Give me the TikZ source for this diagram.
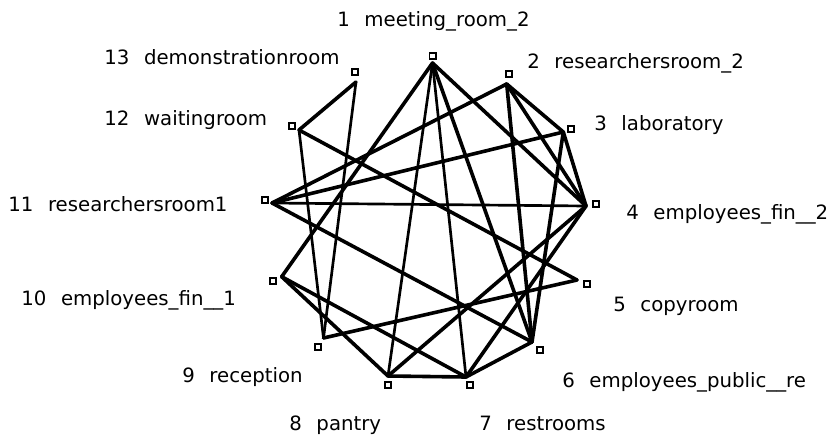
\documentclass[tikz,border=0pt]{standalone}
\usepackage{fontspec}
\setmainfont{DejaVu Sans}
\newcommand{\numgap}{\hspace{11pt}}

\begin{document}
\begin{tikzpicture}[
      x=0.75pt, y=-0.75pt,
      font=\fontsize{14.8}{18}\selectfont,
      edge/.style={line width=2.7pt, line cap=round, line join=round},
      thin edge/.style={edge, line width=2pt},
      marker/.style={draw, line width=1.4pt, fill=white, minimum size=4.6pt, inner sep=0pt},
      lbl/.style={anchor=base west, inner sep=0pt},
    ]
    \useasboundingbox (0,0) rectangle (835,436);

    % line ends of the rooms
    \coordinate (v1) at (432.5,63);
    \coordinate (v2) at (506.7,84);
    \coordinate (v3) at (563.3,132);
    \coordinate (v4) at (586,206);
    \coordinate (v5) at (577,280);
    \coordinate (v6) at (532,342);
    \coordinate (v7) at (466,377);
    \coordinate (v8) at (388,376);
    \coordinate (v9) at (323.5,338);
    \coordinate (v10) at (281.7,276.7);
    \coordinate (v11) at (272,203);
    \coordinate (v12) at (299,130);
    \coordinate (v13) at (356,82);

    % connections
    \draw [edge] (v1) -- (v4);
    \draw [edge] (v1) -- (v6);
    \draw [thin edge] (v1) -- (v7);
    \draw [thin edge] (v1) -- (v8);
    \draw [edge] (v1) -- (v10);
    \draw [edge] (v2) -- (v3);
    \draw [edge] (v2) -- (v4);
    \draw [edge] (v2) -- (v6);
    \draw [edge] (v2) -- (v11);
    \draw [edge] (v3) -- (v4);
    \draw [edge] (v3) -- (v6);
    \draw [edge] (v3) -- (v11);
    \draw [edge] (v4) -- (v7);
    \draw [edge] (v4) -- (v8);
    \draw [thin edge] (v4) -- (v11);
    \draw [edge] (v5) -- (v9);
    \draw [edge] (v5) -- (v12);
    \draw [edge] (v6) -- (v7);
    \draw [edge] (v6) -- (v11);
    \draw [edge] (v7) -- (v8);
    \draw [edge] (v7) -- (v10);
    \draw [edge] (v8) -- (v10);
    \draw [thin edge] (v9) -- (v12);
    \draw [thin edge] (v9) -- (v13);
    \draw [edge] (v12) -- (v13);

    % small squares
    \node (m1) [marker] at (432.5,56) {};
    \node (m2) [marker] at (509.3,74) {};
    \node (m3) [marker] at (570.7,129) {};
    \node (m4) [marker] at (596,204) {};
    \node (m5) [marker] at (586.7,284) {};
    \node (m6) [marker] at (540,350) {};
    \node (m7) [marker] at (470,385) {};
    \node (m8) [marker] at (388.3,385) {};
    \node (m9) [marker] at (318.3,346.7) {};
    \node (m10) [marker] at (273.3,280.7) {};
    \node (m11) [marker] at (265,200) {};
    \node (m12) [marker] at (292.3,126) {};
    \node (m13) [marker] at (355,72.3) {};

    % room names
    \node (l1) [lbl] at (337,26) {1\numgap meeting\_room\_2};
    \node (l2) [lbl] at (527,68) {2\numgap researchersroom\_2};
    \node (l3) [lbl] at (594,130) {3\numgap laboratory};
    \node (l4) [lbl] at (626,219) {4\numgap employees\_fin\_\_2};
    \node (l5) [lbl] at (613,311) {5\numgap copyroom};
    \node (l6) [lbl] at (562,387) {6\numgap employees\_public\_\_re};
    \node (l7) [lbl] at (479,430.5) {7\numgap restrooms};
    \node (l8) [lbl] at (289,430.5) {8\numgap pantry};
    \node (l9) [lbl] at (182,382) {9\numgap reception};
    \node (l10) [lbl] at (21,305) {10\numgap employees\_fin\_\_1};
    \node (l11) [lbl] at (8,211) {11\numgap researchersroom1};
    \node (l12) [lbl] at (104,125) {12\numgap waitingroom};
    \node (l13) [lbl] at (104,64.7) {13\numgap demonstrationroom};
  \end{tikzpicture}
\end{document}
